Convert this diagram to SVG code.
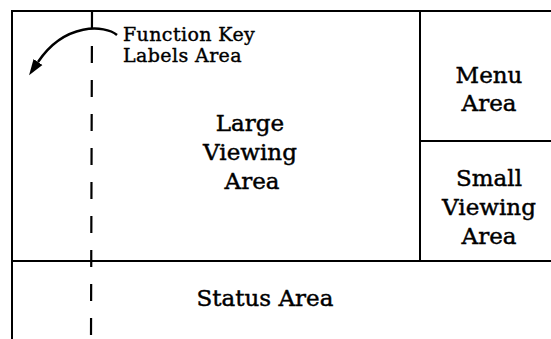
<svg xmlns="http://www.w3.org/2000/svg" width="551" height="339" viewBox="0 0 551 339">
  <style>
    .frame { stroke: #000; stroke-width: 2; fill: none; }
    .dash { stroke: #000; stroke-width: 2.2; stroke-dasharray: 17 17; fill: none; }
    .arc { stroke: #000; stroke-width: 2.5; fill: none; }
    .label { font-family: "DejaVu Serif", "Liberation Serif", serif; font-size: 23px; fill: #000; stroke: #000; stroke-width: 0.45; text-anchor: middle; }
    .note { font-family: "DejaVu Serif", "Liberation Serif", serif; font-size: 19px; fill: #000; stroke: #000; stroke-width: 0.4; letter-spacing: 0.4px; }
  </style>
  <defs>
    <marker id="arrowhead" markerUnits="userSpaceOnUse" markerWidth="16" markerHeight="12" refX="0" refY="5" orient="auto" viewBox="0 0 15 10">
      <path d="M0,0 L15,5 L0,10 z" fill="#000"/>
    </marker>
  </defs>
  <rect width="551" height="339" fill="#fff"/>

  <!-- screen partitions -->
  <g id="connectors">
    <path class="frame" d="M12,339 V11 H551"/>
    <path class="frame" d="M420,11 V261"/>
    <path class="frame" d="M420,141 H551"/>
    <path class="frame" d="M12,261 H551"/>
    <!-- function key boundary -->
    <path class="dash" d="M92,12 L91,339"/>
    <path class="arc" d="M117,35 C105,25 65,22 38,62" marker-end="url(#arrowhead)"/>
  </g>

  <g id="function-key-labels">
    <text class="note" x="123" y="41">Function Key</text>
    <text class="note" x="123" y="62">Labels Area</text>
  </g>

  <g id="large-viewing-area">
    <text class="label" x="250" y="131">Large</text>
    <text class="label" x="250" y="160">Viewing</text>
    <text class="label" x="252" y="189">Area</text>
  </g>

  <g id="menu-area">
    <text class="label" x="489" y="83">Menu</text>
    <text class="label" x="489" y="111">Area</text>
  </g>

  <g id="small-viewing-area">
    <text class="label" x="489" y="186">Small</text>
    <text class="label" x="489" y="215">Viewing</text>
    <text class="label" x="489" y="244">Area</text>
  </g>

  <g id="status-area">
    <text class="label" x="265" y="306">Status Area</text>
  </g>
</svg>
